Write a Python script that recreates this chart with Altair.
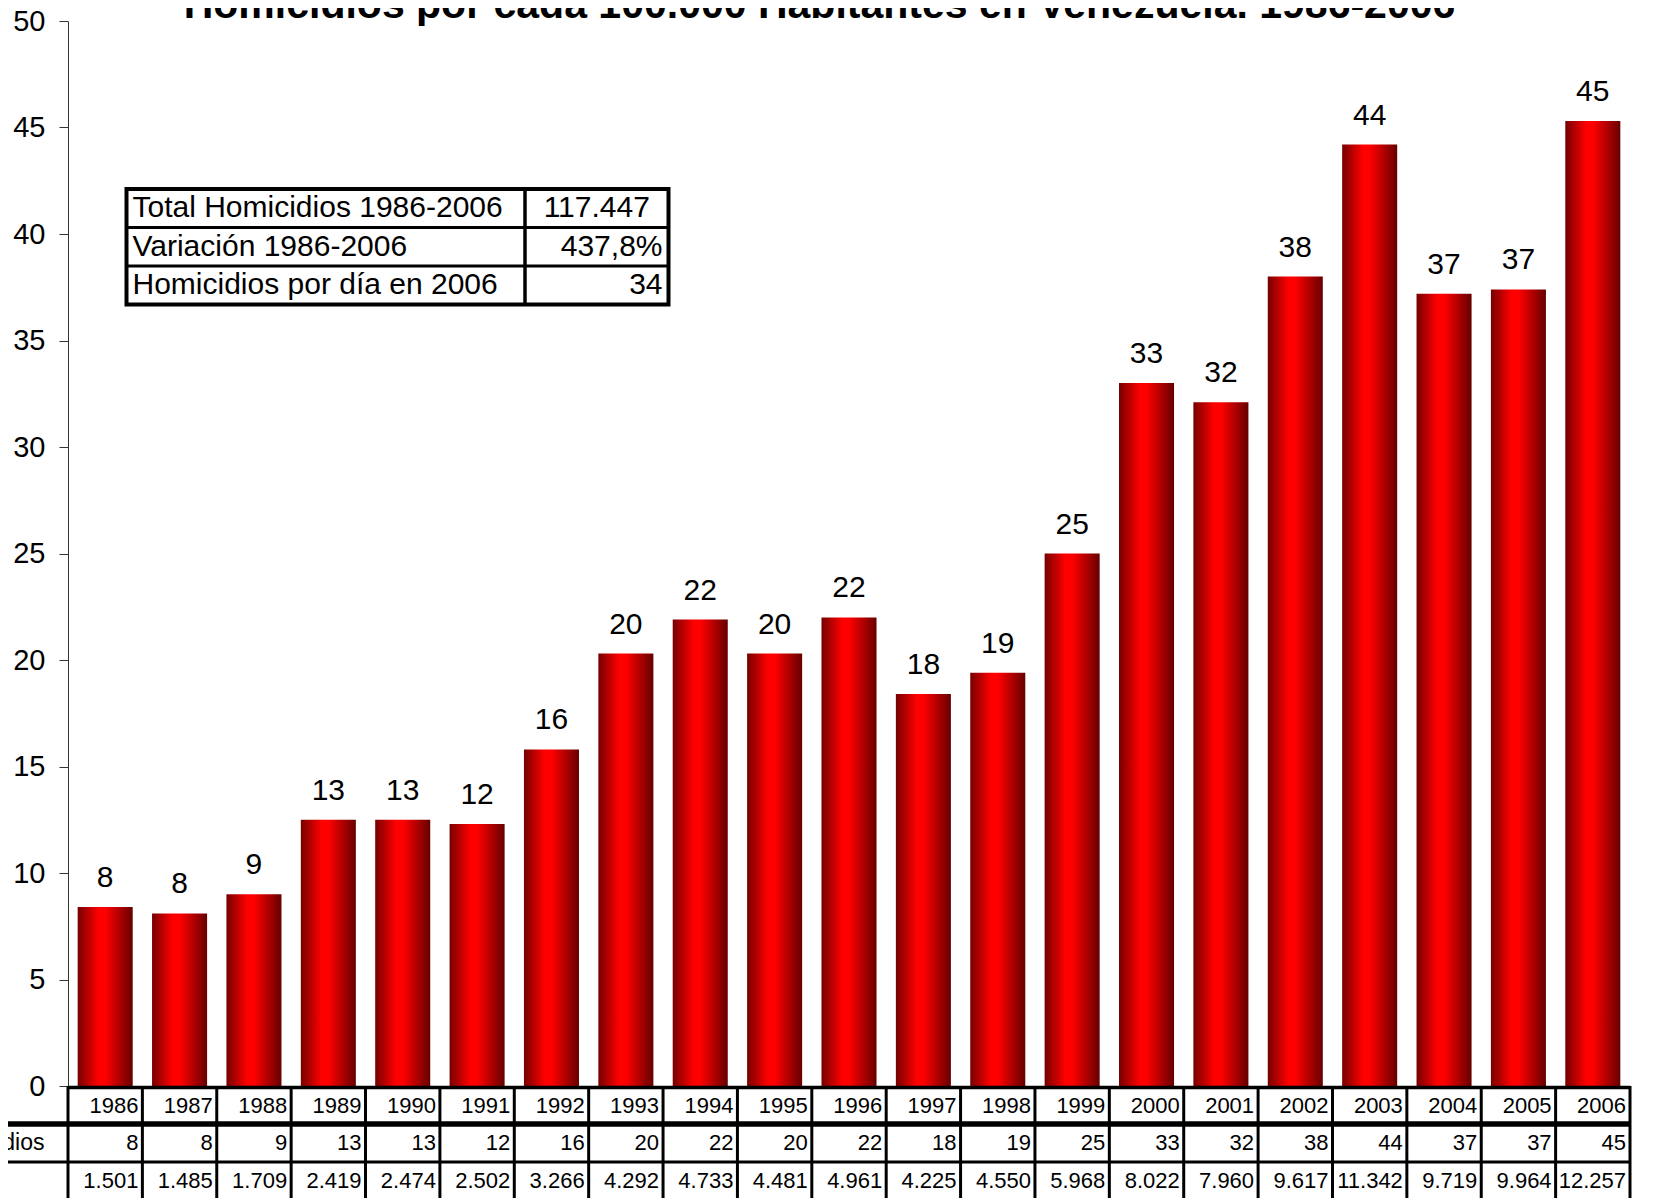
import altair as alt
import pandas as pd

years = ["1986", "1987", "1988", "1989", "1990", "1991", "1992", "1993", "1994", "1995",
         "1996", "1997", "1998", "1999", "2000", "2001", "2002", "2003", "2004", "2005", "2006"]
rates = [8.4, 8.1, 9.0, 12.5, 12.5, 12.3, 15.8, 20.3, 21.9, 20.3,
         22.0, 18.4, 19.4, 25.0, 33.0, 32.1, 38.0, 44.2, 37.2, 37.4, 45.3]
rate_labels = ["8", "8", "9", "13", "13", "12", "16", "20", "22", "20",
               "22", "18", "19", "25", "33", "32", "38", "44", "37", "37", "45"]
homicides = ["1.501", "1.485", "1.709", "2.419", "2.474", "2.502", "3.266", "4.292", "4.733", "4.481",
             "4.961", "4.225", "4.550", "5.968", "8.022", "7.960", "9.617", "11.342", "9.719", "9.964", "12.257"]
row_labels = ["Tasa de Homicidios", "Víctimas"]
title_text = "Homicidios por cada 100.000 Habitantes en Venezuela. 1986-2006"
inset_labels = ["Total Homicidios 1986-2006", "Variación 1986-2006", "Homicidios por día en 2006"]
inset_values = ["117.447", "437,8%", "34"]
y_ticks = [0, 5, 10, 15, 20, 25, 30, 35, 40, 45, 50]

FONT = "Liberation Sans"
W, H = 1562, 1065

df = pd.DataFrame({"year": years, "rate": rates, "label": rate_labels, "count": homicides})
one = pd.DataFrame({"k": [0]})

gradient = alt.Gradient(
    gradient="linear", x1=0, x2=1, y1=0, y2=0,
    stops=[
        alt.GradientStop(color="#760000", offset=0),
        alt.GradientStop(color="#ff0000", offset=0.38),
        alt.GradientStop(color="#ff0000", offset=0.5),
        alt.GradientStop(color="#660000", offset=1),
    ],
)

xenc = alt.X("year:N", sort=years, axis=None,
             scale=alt.Scale(paddingInner=0, paddingOuter=0))
yenc = alt.Y("rate:Q", title=None,
             scale=alt.Scale(domain=[0, 50], nice=False, zero=True),
             axis=alt.Axis(values=y_ticks, grid=False, tickSize=9, tickColor="#333",
                           domainColor="#333", labelFont=FONT, labelFontSize=29,
                           labelColor="black", labelPadding=14))

bars = alt.Chart(df).mark_bar(color=gradient, width=alt.RelativeBandSize(0.74)).encode(
    x=xenc, y=yenc)

vlabels = alt.Chart(df).mark_text(font=FONT, fontSize=30, color="black", dy=-20,
                                  baseline="alphabetic").encode(
    x=alt.X("year:N", sort=years), y="rate:Q", text="label:N")


def hline(yv, x1, x2, sw):
    return alt.Chart(one).mark_rule(color="black", strokeWidth=sw).encode(
        x=alt.value(x1), x2=alt.value(x2), y=alt.value(yv))


def vline(xv, y1, y2, sw):
    return alt.Chart(one).mark_rule(color="black", strokeWidth=sw).encode(
        x=alt.value(xv), y=alt.value(y1), y2=alt.value(y2))


# bottom data table
table_layers = [
    hline(H + 1.5, 0, W, 3.5),
    hline(H + 38, -80, W, 5.5),
    hline(H + 76, -80, W, 3),
    alt.Chart(df).mark_rule(color="black", strokeWidth=3).encode(
        x=alt.X("year:N", sort=years, bandPosition=0), y=alt.value(H), y2=alt.value(H + 130)),
    alt.Chart(df[df["year"] == years[-1]]).mark_rule(color="black", strokeWidth=3).encode(
        x=alt.X("year:N", sort=years, bandPosition=1), y=alt.value(H), y2=alt.value(H + 130)),
]
row_y = [H + 19.5, H + 57, H + 95]
for col, ry in zip(["year", "label", "count"], row_y):
    table_layers.append(
        alt.Chart(df).mark_text(font=FONT, fontSize=22, color="black", align="right",
                                baseline="middle", dx=-4).encode(
            x=alt.X("year:N", sort=years, bandPosition=1), y=alt.value(ry), text=f"{col}:N"))
for lab, ry, xr in zip(row_labels, row_y[1:], [-23.5, -62.5]):
    table_layers.append(
        alt.Chart(pd.DataFrame({"t": [lab]})).mark_text(
            font=FONT, fontSize=23, color="black", align="right", baseline="middle").encode(
            x=alt.value(xr), y=alt.value(ry), text="t:N"))

# inset summary table
ix1, ix2, iy1, iy2, ixd = 58.5, 600.5, 168, 283.5, 457
rh = (iy2 - iy1) / 3
inset_layers = [
    alt.Chart(one).mark_rect(fill="white", stroke="black", strokeWidth=4).encode(
        x=alt.value(ix1), x2=alt.value(ix2), y=alt.value(iy1), y2=alt.value(iy2)),
    hline(iy1 + rh, ix1, ix2, 3),
    hline(iy1 + 2 * rh, ix1, ix2, 3),
    vline(ixd, iy1, iy2, 3.5),
]
for i, (lab, val) in enumerate(zip(inset_labels, inset_values)):
    cy = iy1 + rh * (i + 0.5)
    inset_layers.append(
        alt.Chart(pd.DataFrame({"t": [lab]})).mark_text(
            font=FONT, fontSize=30, color="black", align="left", baseline="middle").encode(
            x=alt.value(ix1 + 6), y=alt.value(cy), text="t:N"))
    if i == 0:
        vx, al = (ixd + ix2) / 2, "center"
    else:
        vx, al = ix2 - 6, "right"
    inset_layers.append(
        alt.Chart(pd.DataFrame({"t": [val]})).mark_text(
            font=FONT, fontSize=30, color="black", align=al, baseline="middle").encode(
            x=alt.value(vx), y=alt.value(cy), text="t:N"))

title = alt.Chart(pd.DataFrame({"t": [title_text]})).mark_text(
    font=FONT, fontSize=41, fontWeight="bold", color="black", align="center",
    baseline="alphabetic").encode(x=alt.value(751.5), y=alt.value(-3), text="t:N")

chart = alt.layer(bars, vlabels, *table_layers, *inset_layers, title).properties(
    width=W, height=H,
    autosize=alt.AutoSizeParams(type="none"),
    padding={"left": 60, "top": 13, "right": 20, "bottom": 112},
).configure_view(strokeWidth=0)

chart.save("out.html", embed_options={"renderer": "svg", "actions": False})
